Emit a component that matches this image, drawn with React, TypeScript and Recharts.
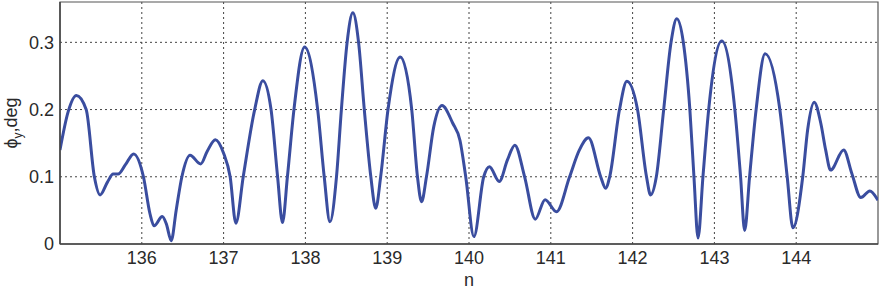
import React from "react";
import {
  LineChart,
  Line,
  XAxis,
  YAxis,
  CartesianGrid,
  ReferenceArea,
} from "recharts";

const nValues: number[] = [
  135.0, 135.1, 135.2, 135.32, 135.42, 135.49, 135.58, 135.65, 135.71, 135.8, 135.9,
  136.02, 136.1, 136.15, 136.25, 136.3, 136.36, 136.42, 136.49, 136.59, 136.72, 136.8,
  136.9, 137.0, 137.08, 137.15, 137.24, 137.38, 137.48, 137.58, 137.66, 137.72, 137.78,
  137.86, 137.99, 138.15, 138.23, 138.3, 138.38, 138.44, 138.51, 138.58, 138.65, 138.72,
  138.8, 138.86, 138.92, 139.01, 139.16, 139.3, 139.37, 139.42, 139.48, 139.57, 139.67,
  139.8, 139.89, 139.96, 140.06, 140.18, 140.25, 140.37, 140.47, 140.56, 140.68, 140.81,
  140.93, 141.07, 141.23, 141.35, 141.46, 141.61, 141.67, 141.72, 141.84, 141.93, 142.06,
  142.17, 142.22, 142.29, 142.38, 142.47, 142.54, 142.62, 142.7, 142.75, 142.8, 142.86,
  142.93, 143.09, 143.25, 143.32, 143.37, 143.43, 143.51, 143.62, 143.8, 143.89, 143.96,
  144.08, 144.14, 144.22, 144.3, 144.36, 144.42, 144.58, 144.68, 144.79, 144.9, 145.0,
];

const phiValues: number[] = [
  0.14, 0.197, 0.221, 0.2, 0.1, 0.073, 0.092, 0.104, 0.104, 0.118, 0.134,
  0.1, 0.045, 0.027, 0.041, 0.03, 0.005, 0.05, 0.1, 0.132, 0.119, 0.138,
  0.155, 0.135, 0.1, 0.031, 0.1, 0.2, 0.243, 0.2, 0.1, 0.032, 0.1,
  0.2, 0.293, 0.2, 0.1, 0.033, 0.1, 0.2, 0.3, 0.344, 0.3, 0.2,
  0.1, 0.053, 0.1, 0.2, 0.278, 0.2, 0.1, 0.063, 0.1, 0.175, 0.206,
  0.18, 0.154, 0.1, 0.011, 0.1, 0.115, 0.093, 0.125, 0.147, 0.1, 0.037,
  0.066, 0.048, 0.1, 0.14, 0.158, 0.1, 0.083, 0.1, 0.2, 0.242, 0.2,
  0.1, 0.073, 0.1, 0.2, 0.3, 0.335, 0.3, 0.2, 0.1, 0.009, 0.1,
  0.2, 0.302, 0.2, 0.1, 0.02, 0.1, 0.2, 0.283, 0.2, 0.1, 0.024,
  0.1, 0.17, 0.211, 0.18, 0.14, 0.11, 0.14, 0.105, 0.069, 0.079, 0.065,
];

const xTicks: number[] = [136, 137, 138, 139, 140, 141, 142, 143, 144];
const yTicks: number[] = [0, 0.1, 0.2, 0.3];
const xLabel = "n";

const data = nValues.map((n, i) => ({ n, phi: phiValues[i] }));

const FONT = "Arial, 'Liberation Sans', sans-serif";
const TEXT = "#2a2a2a";

const YLabel = (props: any) => {
  const vb = props.viewBox || { x: 0, y: 0, width: 60, height: 240 };
  const cx = vb.x + 17;
  const cy = vb.y + vb.height / 2;
  return (
    <text
      x={cx}
      y={cy}
      transform={`rotate(-90 ${cx} ${cy})`}
      textAnchor="middle"
      fill={TEXT}
      fontSize={18}
      fontFamily={FONT}
    >
      <tspan>ϕ</tspan>
      <tspan fontSize={12} dy={5}>y</tspan>
      <tspan dy={-5}>,deg</tspan>
    </text>
  );
};

const XLabel = (props: any) => {
  const vb = props.viewBox || { x: 60, y: 244, width: 818, height: 46 };
  return (
    <text
      x={vb.x + vb.width / 2}
      y={vb.y + 42}
      textAnchor="middle"
      fill={TEXT}
      fontSize={18}
      fontFamily={FONT}
    >
      {xLabel}
    </text>
  );
};

export default function App() {
  return (
    <div style={{ position: "absolute", left: 0, top: 0, background: "#fff" }}>
      <LineChart
        width={880}
        height={290}
        data={data}
        margin={{ top: 2, right: 2, left: 0, bottom: 0 }}
      >
        <CartesianGrid
          stroke="#444"
          strokeDasharray="2 3"
          horizontalValues={[0.1, 0.2, 0.3]}
          verticalValues={xTicks}
        />
        <XAxis
          dataKey="n"
          type="number"
          domain={[135, 145]}
          ticks={xTicks}
          allowDataOverflow
          height={46}
          tickSize={0}
          tickMargin={7}
          tickLine={false}
          axisLine={{ stroke: "#444", strokeWidth: 1.5 }}
          tick={{ fill: TEXT, fontSize: 18, fontFamily: FONT }}
          label={<XLabel />}
        />
        <YAxis
          type="number"
          domain={[0, 0.36]}
          ticks={yTicks}
          allowDataOverflow
          width={60}
          tickSize={0}
          tickMargin={6}
          tickLine={false}
          axisLine={{ stroke: "#444", strokeWidth: 1.5 }}
          tick={{ fill: TEXT, fontSize: 18, fontFamily: FONT }}
          tickFormatter={(v: number) => (v === 0 ? "0" : String(v))}
          label={<YLabel />}
        />
        <ReferenceArea
          x1={135}
          x2={145}
          y1={0}
          y2={0.36}
          fill="none"
          stroke="#555"
          strokeWidth={1.2}
          ifOverflow="visible"
        />
        <Line
          type="monotone"
          dataKey="phi"
          stroke="#3a4d9f"
          strokeWidth={3}
          dot={false}
          isAnimationActive={false}
        />
      </LineChart>
    </div>
  );
}
